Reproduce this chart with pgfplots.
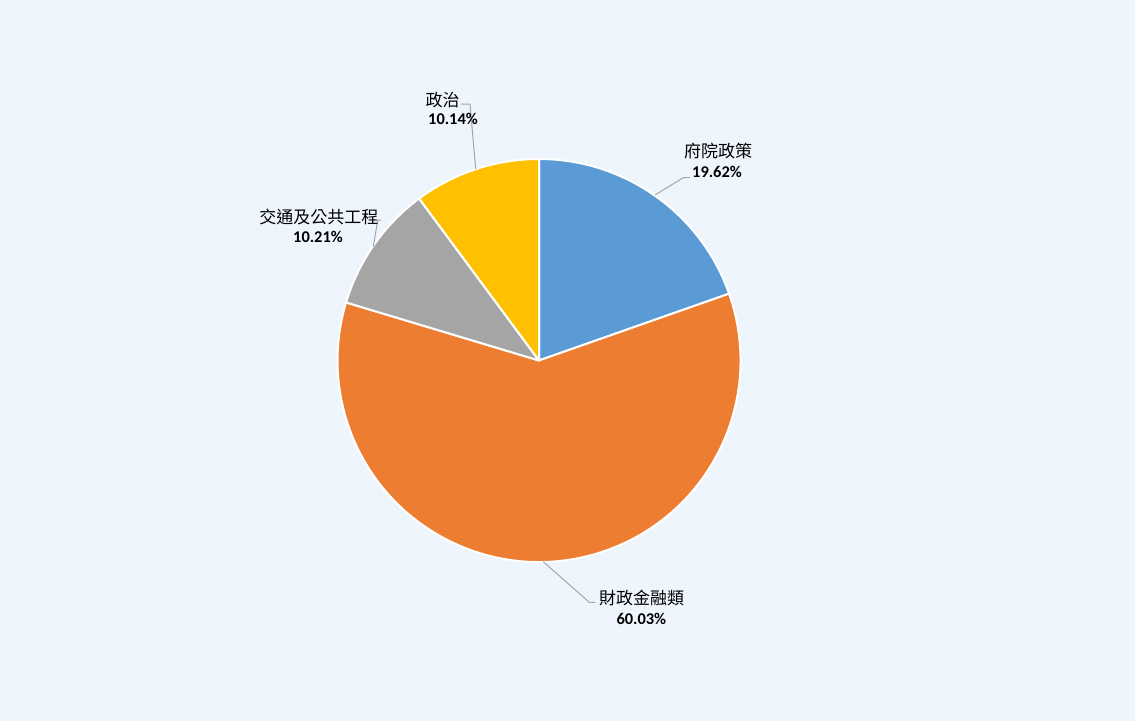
\documentclass[border=0pt]{standalone}
\usepackage{pgfplots}
\usepackage{pgfplotstable}
\pgfplotsset{compat=1.18}
\usepackage{fontspec}
\newfontfamily\cjk{Noto Sans CJK TC}
\newfontfamily\pct{Carlito}
\definecolor{bg}{HTML}{EEF5FD}
\definecolor{cA}{HTML}{5B9BD5}
\definecolor{cB}{HTML}{ED7D31}
\definecolor{cC}{HTML}{A5A5A5}
\definecolor{cD}{HTML}{FFC000}
\definecolor{lead}{HTML}{A6A6A6}
\pgfplotstableread{
name value
府院政策 19.62
財政金融類 60.03
交通及公共工程 10.21
政治 10.14
}\piedata
\begin{document}
\begin{tikzpicture}
\pgfplotstablegetelem{0}{value}\of\piedata \let\vA\pgfplotsretval
\pgfplotstablegetelem{1}{value}\of\piedata \let\vB\pgfplotsretval
\pgfplotstablegetelem{2}{value}\of\piedata \let\vC\pgfplotsretval
\pgfplotstablegetelem{3}{value}\of\piedata \let\vD\pgfplotsretval
\pgfmathsetmacro\aA{90}
\pgfmathsetmacro\aB{\aA-3.6*\vA}
\pgfmathsetmacro\aC{\aB-3.6*\vB}
\pgfmathsetmacro\aD{\aC-3.6*\vC}
\pgfmathsetmacro\aE{\aD-3.6*\vD}
\def\R{151.125pt}
\begin{axis}[
  scale only axis, width=851.25pt, height=540.75pt,
  xmin=0, xmax=1135, ymin=0, ymax=721, y dir=reverse,
  hide axis, clip=false,
]
\fill[bg] (axis cs:0,0) rectangle (axis cs:1135,721);
\fill[cA, draw=white, line width=1.5pt, line join=round] (axis cs:539,360.5) -- ++(\aA:\R) arc[start angle=\aA, end angle=\aB, radius=\R] -- cycle;
\fill[cB, draw=white, line width=1.5pt, line join=round] (axis cs:539,360.5) -- ++(\aB:\R) arc[start angle=\aB, end angle=\aC, radius=\R] -- cycle;
\fill[cC, draw=white, line width=1.5pt, line join=round] (axis cs:539,360.5) -- ++(\aC:\R) arc[start angle=\aC, end angle=\aD, radius=\R] -- cycle;
\fill[cD, draw=white, line width=1.5pt, line join=round] (axis cs:539,360.5) -- ++(\aD:\R) arc[start angle=\aD, end angle=\aE, radius=\R] -- cycle;
% leader lines
\draw[lead, line width=0.75pt] (axis cs:690,177.7) -- (axis cs:683.3,177.7) -- (axis cs:655,195);
\draw[lead, line width=0.75pt] (axis cs:595,602.3) -- (axis cs:589.3,602.3) -- (axis cs:543.3,561.7);
\draw[lead, line width=0.75pt] (axis cs:381,220) -- (axis cs:377.7,220) -- (axis cs:373.3,246.7);
\draw[lead, line width=0.75pt] (axis cs:461,104) -- (axis cs:470,104) -- (axis cs:475.7,169.3);
% labels
\tikzset{nm/.style={inner sep=0pt, anchor=center, font=\cjk\fontsize{12.75pt}{14pt}\selectfont},
         pc/.style={inner sep=0pt, anchor=center, font=\pct\bfseries\fontsize{12.3pt}{14pt}\selectfont}}
\node[nm] at (axis cs:718,150.7) {府院政策};
\node[pc] at (axis cs:717,172.3) {19.62\%};
\node[nm] at (axis cs:641.7,597.7) {財政金融類};
\node[pc] at (axis cs:641.3,619) {60.03\%};
\node[nm] at (axis cs:318.8,216.7) {交通及公共工程};
\node[pc] at (axis cs:318,236.7) {10.21\%};
\node[nm] at (axis cs:442.5,100) {政治};
\node[pc] at (axis cs:453,119) {10.14\%};
\end{axis}
\end{tikzpicture}
\end{document}
